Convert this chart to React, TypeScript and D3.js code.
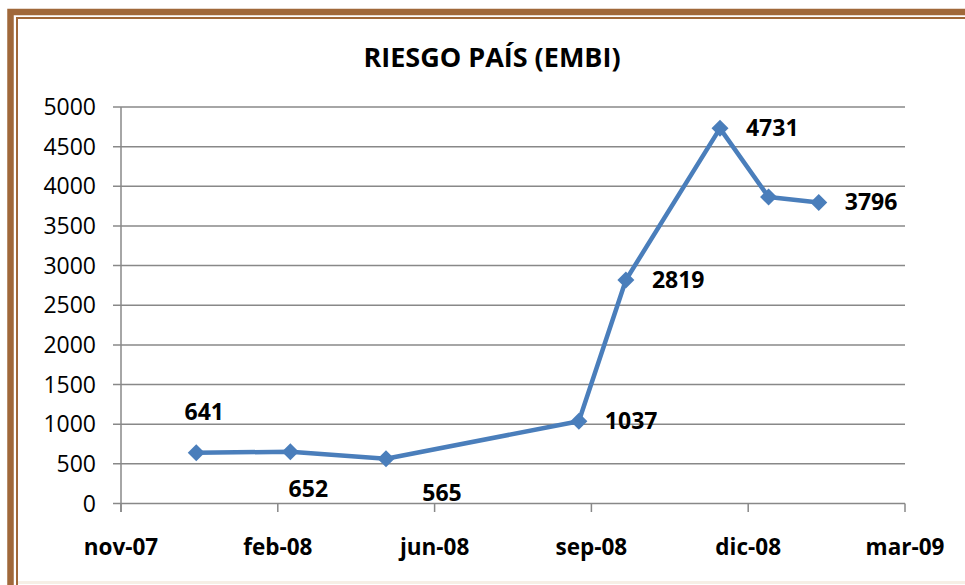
import React from "react";
import * as d3 from "d3";

const dates = ["2007-12-31", "2008-02-29", "2008-04-30", "2008-08-31", "2008-09-30", "2008-11-29", "2008-12-30", "2009-01-31"];
const values = [641, 652, 565, 1037, 2819, 4731, 3865, 3796];
const showLabel = [true, true, true, true, true, true, false, true];
const labelOffsets: [number, number, string][] = [
  [8, -33, "middle"],
  [18, 45, "middle"],
  [56, 42, "middle"],
  [26, 8, "start"],
  [26, 8, "start"],
  [26, 8, "start"],
  [0, 0, "start"],
  [26, 8, "start"],
];
const xTickLabels = ["nov-07", "feb-08", "jun-08", "sep-08", "dic-08", "mar-09"];
const yTicks = [0, 500, 1000, 1500, 2000, 2500, 3000, 3500, 4000, 4500, 5000];
const axisStart = "2007-11-13";
const tickStepDays = 100;
const title = "RIESGO PAÍS (EMBI)";

const W = 965, H = 585;
const FONT = "'Open Sans', 'Noto Sans', sans-serif";

export default function App() {
  const parse = (s: string) => new Date(s + "T00:00:00Z");
  const start = parse(axisStart);
  const tickDates = xTickLabels.map((_, i) => d3.utcDay.offset(start, i * tickStepDays));
  const x = d3.scaleUtc().domain([start, tickDates[tickDates.length - 1]]).range([121, 905]);
  const y = d3.scaleLinear().domain([0, 5000]).range([503.5, 107]);
  const pts = dates.map((d, i) => [x(parse(d)), y(values[i])] as [number, number]);
  const line = d3.line()(pts) || "";
  const brown = "#A0683A";
  const grid = "#888888";
  const blue = "#4A7EBB";
  const diamond = (cx: number, cy: number) => `M${cx},${cy - 8.5}L${cx + 8.5},${cy}L${cx},${cy + 8.5}L${cx - 8.5},${cy}Z`;
  return (
    <svg width={W} height={H} style={{ position: "absolute", left: 0, top: 0, background: "#fff" }} fontFamily={FONT}>
      <rect x={0} y={0} width={W} height={H} fill="#fff" />
      {/* frame */}
      <rect x={10.5} y={12} width={W + 20} height={H + 20} fill="none" stroke={brown} strokeWidth={6.5} />
      <rect x={17} y={18} width={W + 20} height={H + 20} fill="none" stroke={brown} strokeWidth={2} />
      <line x1={18} x2={W} y1={582.5} y2={582.5} stroke="#F6EFE6" strokeWidth={3} />
      <text x={492} y={67} textAnchor="middle" fontSize={27} fontWeight="bold" fill="#000">{title}</text>
      {/* grid */}
      {yTicks.map((t) => (
        <g key={t}>
          <line x1={113} x2={905} y1={y(t)} y2={y(t)} stroke={grid} strokeWidth={1.5} />
          <text x={96} y={y(t) + 8} textAnchor="end" fontSize={23} fill="#000">{t}</text>
        </g>
      ))}
      <line x1={121} x2={121} y1={107} y2={512} stroke={grid} strokeWidth={1.5} />
      {tickDates.map((d, i) => (
        <g key={i}>
          <line x1={x(d)} x2={x(d)} y1={503.5} y2={512} stroke={grid} strokeWidth={1.5} />
          <text x={x(d)} y={555} textAnchor="middle" fontSize={22.5} fontWeight="bold" fill="#000">{xTickLabels[i]}</text>
        </g>
      ))}
      <path d={line} fill="none" stroke={blue} strokeWidth={4.5} strokeLinejoin="round" />
      {pts.map(([cx, cy], i) => (
        <path key={i} d={diamond(cx, cy)} fill={blue} />
      ))}
      {pts.map(([cx, cy], i) =>
        showLabel[i] ? (
          <text key={i} x={cx + labelOffsets[i][0]} y={cy + labelOffsets[i][1]} textAnchor={labelOffsets[i][2] as any} fontSize={23} fontWeight="bold" fill="#000">
            {values[i]}
          </text>
        ) : null
      )}
    </svg>
  );
}
